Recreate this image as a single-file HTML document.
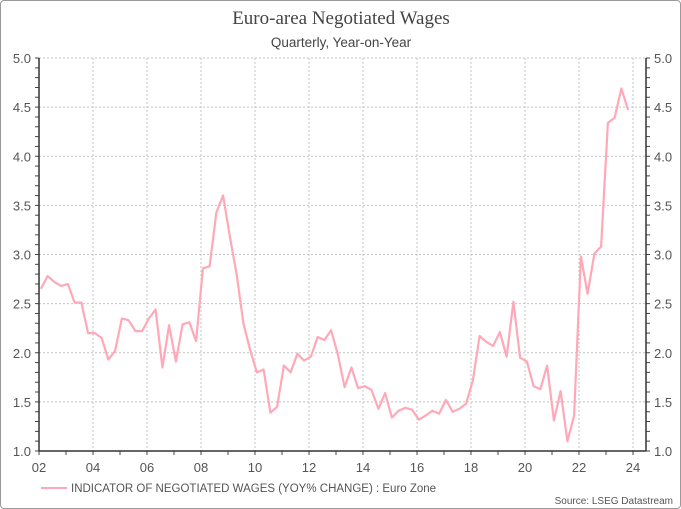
<!DOCTYPE html>
<html><head><meta charset="utf-8"><style>
body{margin:0;background:#fff;}
#wrap{position:relative;width:679px;height:507px;border:1px solid #9a9a9a;border-radius:4px;overflow:hidden;font-family:"Liberation Sans",sans-serif;}
</style></head><body>
<div id="wrap">
<svg id="chart" width="681" height="509"></svg>
</div>
<script>
const years = ["02","04","06","08","10","12","14","16","18","20","22","24"];
const yTicks = [1.0,1.5,2.0,2.5,3.0,3.5,4.0,4.5,5.0];
const wages = [2.65,2.78,2.72,2.68, 2.70,2.51,2.51,2.20, 2.20,2.15,1.93,2.02, 2.35,2.33,2.22,2.22,
 2.35,2.44,1.85,2.28, 1.91,2.29,2.31,2.12, 2.86,2.88,3.43,3.60, 3.18,2.80,2.30,2.03,
 1.80,1.83,1.39,1.45, 1.87,1.80,1.99,1.92, 1.96,2.16,2.13,2.23, 1.98,1.65,1.85,1.64,
 1.66,1.62,1.43,1.59, 1.34,1.41,1.44,1.42, 1.32,1.36,1.41,1.38, 1.52,1.40,1.43,1.48,
 1.72,2.17,2.11,2.07, 2.21,1.96,2.52,1.95, 1.91,1.66,1.63,1.87, 1.31,1.61,1.10,1.36,
 2.98,2.60,3.01,3.08, 4.34,4.39,4.69,4.47];
const startYear = 2002.07;
const NS="http://www.w3.org/2000/svg";
const svg=document.getElementById('chart');
const L=38,R=645,T=57,B=450;
const x=t=>L+(t-2002)*27;
const y=v=>B-(v-1)*(B-T)/4;
function mk(tag,attrs,txt){const e=document.createElementNS(NS,tag);for(const k in attrs)e.setAttribute(k,attrs[k]);if(txt!==undefined)e.textContent=txt;svg.appendChild(e);return e;}
let t=mk('text',{x:340,y:23,'text-anchor':'middle','font-family':'Liberation Serif, serif','font-size':19,fill:'#444'},'Euro-area Negotiated Wages');


t=mk('text',{x:340,y:46,'text-anchor':'middle','font-size':13.5,fill:'#444'},'Quarterly, Year-on-Year');


yTicks.forEach(v=>{
 let g=mk('line',{x1:L,x2:R,y1:y(v),y2:y(v),stroke:'#c4c4c4','stroke-dasharray':'2,2'});
 
 
 let a=mk('text',{x:30,y:y(v)+5,'text-anchor':'end','font-size':13,fill:'#555'},v.toFixed(1));
 
 
 let b=mk('text',{x:653,y:y(v)+5,'font-size':13,fill:'#555'},v.toFixed(1));
 
 
});
for(let v=1;v<=5.001;v+=0.1){
 mk('line',{x1:L-4,x2:L,y1:y(v),y2:y(v),stroke:'#444'});
 mk('line',{x1:R,x2:R+4,y1:y(v),y2:y(v),stroke:'#444'});
}
years.forEach((lab,i)=>{
 const xx=x(2002+2*i);
 let g=mk('line',{x1:xx,x2:xx,y1:T,y2:B,stroke:'#c4c4c4','stroke-dasharray':'2,2'});
 
 
 let a=mk('text',{x:xx,y:471,'text-anchor':'middle','font-size':13,fill:'#555'},lab);
 
 
});
for(let yr=2002;yr<=2024;yr++)mk('line',{x1:x(yr),x2:x(yr),y1:B,y2:B+4,stroke:'#444'});
mk('line',{x1:L,x2:L,y1:T,y2:B,stroke:'#333','stroke-width':1.5});
mk('line',{x1:R,x2:R,y1:T,y2:B,stroke:'#333','stroke-width':1.5});
mk('line',{x1:L,x2:R,y1:B,y2:B,stroke:'#333','stroke-width':1.5});
const pts=wages.map((v,i)=>x(startYear+i*0.25).toFixed(1)+','+y(v).toFixed(1)).join(' ');
let p=mk('polyline',{points:pts,fill:'none',stroke:'#ffa8b8','stroke-width':2.2,'stroke-linejoin':'round'});


let ll=mk('line',{x1:40,x2:66,y1:487,y2:487,stroke:'#ffa8b8','stroke-width':2});


t=mk('text',{x:70,y:491,'font-size':11.5,fill:'#555'},'INDICATOR OF NEGOTIATED WAGES (YOY% CHANGE) : Euro Zone');


t=mk('text',{x:672,y:503,'text-anchor':'end','font-size':10,fill:'#555'},'Source: LSEG Datastream');


</script>
</body></html>
